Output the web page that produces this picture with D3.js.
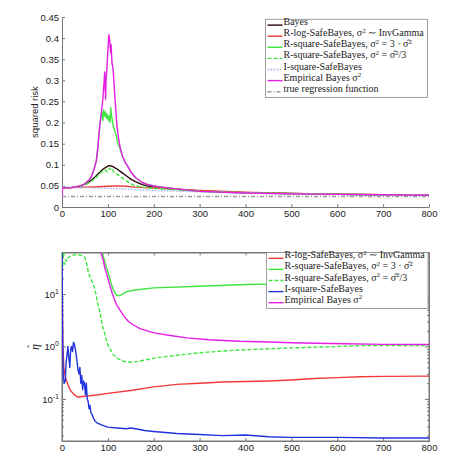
<!DOCTYPE html>
<html>
<head>
<meta charset="utf-8">
<script src="https://cdn.jsdelivr.net/npm/d3@7"></script>
<style>
  body { margin: 0; background: #fff; }
  text { font-family: "Liberation Sans", Arial, sans-serif; }
  .tick text { fill: #222; font-size: 9.5px; }
  .domain, .tick line { stroke: #777; }
  .legend text { font-family: "Liberation Serif", "Times New Roman", serif; font-size: 10px; fill: #222; }
</style>
</head>
<body>
<div id="chart"></div>
<script>
// tick labels
const xTicks = [0, 100, 200, 300, 400, 500, 600, 700, 800];
const riskTicks = [0, 0.05, 0.1, 0.15, 0.2, 0.25, 0.3, 0.35, 0.4, 0.45];
const etaTicks = [0.1, 1, 10];

// top panel: squared risk vs sample size, [n, risk]
const riskBayes = [[0,0.045],[20,0.046],[40,0.05],[50,0.054],[60,0.06],[70,0.069],[80,0.08],[90,0.09],[100,0.097],[105,0.098],[110,0.096],[120,0.09],[130,0.082],[140,0.074],[150,0.066],[160,0.06],[175,0.053],[190,0.049],[210,0.046],[250,0.042],[300,0.038],[400,0.034],[500,0.032],[600,0.030],[700,0.029],[800,0.028]];
const riskRLog = [[0,0.045],[50,0.047],[80,0.048],[100,0.049],[120,0.05],[140,0.049],[160,0.047],[180,0.046],[200,0.045],[250,0.042],[300,0.039],[400,0.035],[500,0.032],[600,0.031],[700,0.029],[800,0.028]];
const riskRSq3 = [[0,0.045],[20,0.046],[40,0.05],[50,0.055],[60,0.065],[65,0.075],[70,0.09],[75,0.11],[78,0.14],[80,0.165],[83,0.2],[85,0.215],[87,0.225],[89,0.205],[91,0.23],[93,0.215],[95,0.225],[97,0.21],[99,0.22],[101,0.205],[103,0.215],[105,0.2],[106,0.235],[108,0.215],[110,0.205],[112,0.19],[114,0.185],[116,0.175],[118,0.17],[120,0.16],[122,0.15],[124,0.145],[126,0.14],[128,0.132],[132,0.12],[138,0.105],[144,0.095],[150,0.083],[160,0.07],[175,0.058],[190,0.052],[210,0.048],[250,0.043],[300,0.037],[400,0.033],[500,0.031],[600,0.030],[700,0.029],[800,0.028]];
const riskRSqThird = [[0,0.045],[20,0.046],[40,0.049],[50,0.052],[60,0.058],[70,0.066],[80,0.076],[85,0.082],[90,0.085],[95,0.088],[98,0.083],[100,0.087],[104,0.092],[107,0.086],[110,0.088],[114,0.082],[120,0.078],[130,0.07],[140,0.062],[150,0.055],[160,0.05],[175,0.047],[200,0.044],[250,0.041],[300,0.037],[400,0.034],[500,0.032],[600,0.030],[700,0.029],[800,0.028]];
const riskISq = [[0,0.047],[50,0.046],[100,0.044],[150,0.042],[200,0.039],[300,0.036],[400,0.033],[500,0.031],[600,0.030],[800,0.028]];
const riskEB = [[0,0.02],[1,0.045],[20,0.046],[40,0.05],[50,0.055],[60,0.065],[65,0.075],[70,0.09],[75,0.11],[78,0.14],[80,0.165],[83,0.2],[86,0.225],[89,0.255],[92,0.3],[93,0.32],[95,0.255],[96,0.3],[98,0.33],[100,0.37],[102,0.408],[104,0.395],[106,0.365],[107,0.385],[109,0.34],[111,0.33],[113,0.3],[115,0.265],[117,0.235],[120,0.19],[123,0.165],[127,0.14],[132,0.12],[138,0.105],[144,0.095],[150,0.083],[160,0.07],[175,0.058],[190,0.052],[210,0.048],[250,0.043],[300,0.037],[400,0.033],[500,0.031],[600,0.030],[700,0.029],[800,0.028]];
const riskTrue = [[0,0.025],[800,0.025]];

// bottom panel: learning rate eta-hat, [n, eta]
const etaRLog = [[0,30],[2,1],[4,0.4],[6,0.3],[8,0.25],[12,0.2],[16,0.16],[20,0.14],[25,0.125],[30,0.115],[35,0.108],[40,0.11],[50,0.113],[60,0.115],[70,0.118],[80,0.12],[100,0.128],[150,0.145],[200,0.17],[250,0.19],[300,0.2],[350,0.21],[400,0.215],[450,0.22],[500,0.23],[550,0.245],[600,0.255],[650,0.265],[700,0.27],[800,0.272]];
const etaRSq3 = [[0,60],[3,50],[6,70],[85,70],[88,62],[92,45],[96,34],[100,27],[104,20],[108,15],[112,12],[116,10.2],[120,9.5],[125,9.3],[130,9.8],[140,11],[155,11.8],[200,13.1],[300,14.1],[400,15.2],[450,15.5],[500,16],[600,16.5],[700,17],[800,17]];
const etaRSqThird = [[0,40],[2,35],[4,40],[6,37],[8,45],[10,42],[12,48],[15,50],[20,55],[30,56],[40,55],[45,54],[50,50],[53,40],[55,34],[58,25],[62,20],[66,17],[70,14],[74,10],[77,7],[80,5.5],[83,4.4],[86,3.2],[89,2.3],[92,1.9],[95,1.5],[98,1.2],[102,1.0],[106,0.85],[112,0.7],[120,0.6],[130,0.54],[140,0.51],[150,0.5],[165,0.52],[180,0.55],[200,0.6],[250,0.68],[300,0.76],[350,0.82],[400,0.87],[500,0.94],[600,1.0],[650,1.04],[700,1.04],[800,1.04]];
const etaISq = [[0,100],[1,3],[2,0.5],[3,0.25],[5,0.2],[7,0.22],[9,0.5],[11,0.7],[13,1.0],[15,0.6],[17,0.4],[19,0.9],[21,1.0],[23,0.8],[25,1.2],[27,1.1],[29,0.9],[31,0.7],[33,0.5],[35,0.35],[37,0.3],[39,0.4],[41,0.2],[43,0.28],[45,0.15],[47,0.22],[49,0.2],[51,0.12],[53,0.2],[55,0.1],[57,0.09],[59,0.065],[61,0.075],[63,0.055],[66,0.05],[69,0.042],[72,0.038],[76,0.035],[80,0.034],[90,0.031],[100,0.029],[120,0.028],[140,0.027],[150,0.028],[160,0.027],[180,0.025],[200,0.024],[250,0.022],[300,0.021],[350,0.02],[400,0.0205],[450,0.019],[500,0.0185],[600,0.0185],[700,0.018],[800,0.018]];
const etaEB = [[0,200],[82,200],[85,62],[88,50],[91,40],[94,30],[97,25],[100,20],[105,14],[110,10],[115,7.5],[120,6],[126,5],[135,3.8],[145,3],[155,2.6],[170,2.2],[200,1.82],[240,1.6],[272,1.46],[320,1.35],[388,1.26],[450,1.22],[500,1.18],[584,1.14],[700,1.1],[800,1.09]];

// series styling
const riskSeries = [
  { label: "Bayes", data: riskBayes, color: "#2a0606", dash: null },
  { label: "R-log-SafeBayes, σ^2 ∼ InvGamma", data: riskRLog, color: "#f03a3a", dash: null },
  { label: "R-square-SafeBayes, σ^2 = 3 · σ̂^2", data: riskRSq3, color: "#3fe63f", dash: null },
  { label: "R-square-SafeBayes, σ^2 = σ̂^2/3", data: riskRSqThird, color: "#3fe63f", dash: "4,2" },
  { label: "I-square-SafeBayes", data: riskISq, color: "#a4b0ee", dash: "1.5,1.5" },
  { label: "Empirical Bayes σ^2", data: riskEB, color: "#e61ee6", dash: null },
  { label: "true regression function", data: riskTrue, color: "#9a9a9a", dash: "4,2,1,2" }
];
const etaSeries = [
  { label: "R-log-SafeBayes, σ^2 ∼ InvGamma", data: etaRLog, color: "#f03a3a", dash: null },
  { label: "R-square-SafeBayes, σ^2 = 3 · σ̂^2", data: etaRSq3, color: "#3fe63f", dash: null },
  { label: "R-square-SafeBayes, σ^2 = σ̂^2/3", data: etaRSqThird, color: "#3fe63f", dash: "4,2" },
  { label: "I-square-SafeBayes", data: etaISq, color: "#2233dd", dash: null },
  { label: "Empirical Bayes σ^2", data: etaEB, color: "#e61ee6", dash: null }
];

const width = 474, height = 466;
const left = 62, right = 429;
const top1 = 17, bottom1 = 207;
const top2 = 252.5, bottom2 = 441;

const svg = d3.select("#chart").append("svg")
  .attr("width", width)
  .attr("height", height);

const xScale = d3.scaleLinear().domain([0, 800]).range([left, right]);
const yRisk = d3.scaleLinear().domain([0, 0.45]).range([bottom1, top1]);
const yEta = d3.scaleLog().domain([0.0158, 62]).range([bottom2, top2]);

svg.append("clipPath").attr("id", "clip1").append("rect")
  .attr("x", left).attr("y", top1).attr("width", right - left).attr("height", bottom1 - top1);
svg.append("clipPath").attr("id", "clip2").append("rect")
  .attr("x", left).attr("y", top2).attr("width", right - left).attr("height", bottom2 - top2);

// ---- top panel axes
svg.append("g")
  .attr("transform", `translate(0,${bottom1})`)
  .call(d3.axisBottom(xScale).tickValues(xTicks).tickSize(-3).tickSizeOuter(0).tickPadding(3));

svg.append("g")
  .attr("transform", `translate(${left},0)`)
  .call(d3.axisLeft(yRisk).tickValues(riskTicks).tickFormat(d3.format("~g")).tickSize(-3).tickSizeOuter(0).tickPadding(3));

svg.append("text")
  .attr("transform", `translate(35,112) rotate(-90)`)
  .attr("text-anchor", "middle")
  .attr("dy", "0.35em")
  .style("font-size", "9.5px")
  .attr("fill", "#222")
  .text("squared risk");

// ---- bottom panel axes (boxed, log y)
svg.append("rect")
  .attr("x", left).attr("y", top2)
  .attr("width", right - left).attr("height", bottom2 - top2)
  .attr("fill", "none").attr("stroke", "#777");

svg.append("g")
  .attr("transform", `translate(0,${bottom2})`)
  .call(d3.axisBottom(xScale).tickValues(xTicks).tickSize(-3).tickSizeOuter(0).tickPadding(3));
svg.append("g")
  .attr("transform", `translate(0,${top2})`)
  .call(d3.axisTop(xScale).tickValues(xTicks).tickFormat("").tickSize(-3).tickSizeOuter(0));

// minor log ticks between the decades
const minorTicks = [];
[0.01, 0.1, 1, 10].forEach(dec => {
  for (let m = 2; m <= 9; m++) {
    const v = dec * m;
    if (v >= yEta.domain()[0] && v <= yEta.domain()[1]) minorTicks.push(v);
  }
});

const leftAxis = svg.append("g")
  .attr("transform", `translate(${left},0)`)
  .call(d3.axisLeft(yEta).tickValues(etaTicks).tickSize(-4).tickSizeOuter(0).tickPadding(3));
leftAxis.selectAll(".tick text").each(function (d) {
  const t = d3.select(this).text("");
  t.append("tspan").text("10");
  t.append("tspan").attr("dy", -4).style("font-size", "7px").text(Math.round(Math.log10(d)));
});
svg.append("g")
  .attr("transform", `translate(${left},0)`)
  .call(d3.axisLeft(yEta).tickValues(minorTicks).tickFormat("").tickSize(-2).tickSizeOuter(0))
  .select(".domain").remove();
svg.append("g")
  .attr("transform", `translate(${right},0)`)
  .call(d3.axisRight(yEta).tickValues(etaTicks).tickFormat("").tickSize(-4).tickSizeOuter(0));
svg.append("g")
  .attr("transform", `translate(${right},0)`)
  .call(d3.axisRight(yEta).tickValues(minorTicks).tickFormat("").tickSize(-2).tickSizeOuter(0))
  .select(".domain").remove();

// eta-hat label, hat placed by hand above the rotated eta
const etaLabel = svg.append("g").attr("transform", `translate(37,347) rotate(-90)`);
etaLabel.append("text")
  .attr("text-anchor", "middle")
  .attr("dy", "0.2em")
  .style("font-family", "'Liberation Serif', serif")
  .style("font-style", "italic")
  .style("font-size", "12px")
  .attr("fill", "#222")
  .text("η");
etaLabel.append("text")
  .attr("x", 0.5)
  .attr("y", -3.5)
  .attr("text-anchor", "middle")
  .style("font-family", "'Liberation Serif', serif")
  .style("font-size", "9px")
  .attr("fill", "#222")
  .text("ˆ");

// ---- lines
function drawLines(series, yScale, clipId) {
  const line = d3.line()
    .x(d => xScale(d[0]))
    .y(d => yScale(d[1]));
  svg.append("g")
    .attr("clip-path", `url(#${clipId})`)
    .selectAll("path")
    .data(series)
    .enter()
    .append("path")
    .attr("d", d => line(d.data))
    .attr("fill", "none")
    .attr("stroke", d => d.color)
    .attr("stroke-width", 1.4)
    .attr("stroke-linejoin", "round")
    .attr("stroke-dasharray", d => d.dash);
}
drawLines(riskSeries, yRisk, "clip1");
drawLines(etaSeries, yEta, "clip2");

// ---- legends
function writeLabel(sel, label) {
  let shift = 0;
  label.split(/(\^\S)/).forEach(part => {
    if (part.startsWith("^")) {
      sel.append("tspan").attr("dy", -3.5).style("font-size", "7px").text(part.slice(1));
      shift = 3.5;
    } else if (part) {
      sel.append("tspan").attr("dy", shift).text(part);
      shift = 0;
    }
  });
}

function drawLegend(series, x0, y0, w) {
  const rowH = 11.1;
  const g = svg.append("g").attr("class", "legend");
  g.append("rect")
    .attr("x", x0).attr("y", y0)
    .attr("width", w).attr("height", series.length * rowH + 0.5)
    .attr("fill", "#fff").attr("stroke", "#888").attr("stroke-width", 0.8);
  series.forEach((s, i) => {
    const cy = y0 + 5.8 + i * rowH;
    g.append("line")
      .attr("x1", x0 + 2).attr("x2", x0 + 17)
      .attr("y1", cy).attr("y2", cy)
      .attr("stroke", s.color).attr("stroke-width", 1.4)
      .attr("stroke-dasharray", s.dash);
    const t = g.append("text").attr("x", x0 + 18).attr("y", cy).attr("dy", "0.35em");
    writeLabel(t, s.label);
  });
}
drawLegend(riskSeries, 265.5, 19.3, 162);
drawLegend(etaSeries, 266.5, top2, 161.5);
</script>
</body>
</html>
